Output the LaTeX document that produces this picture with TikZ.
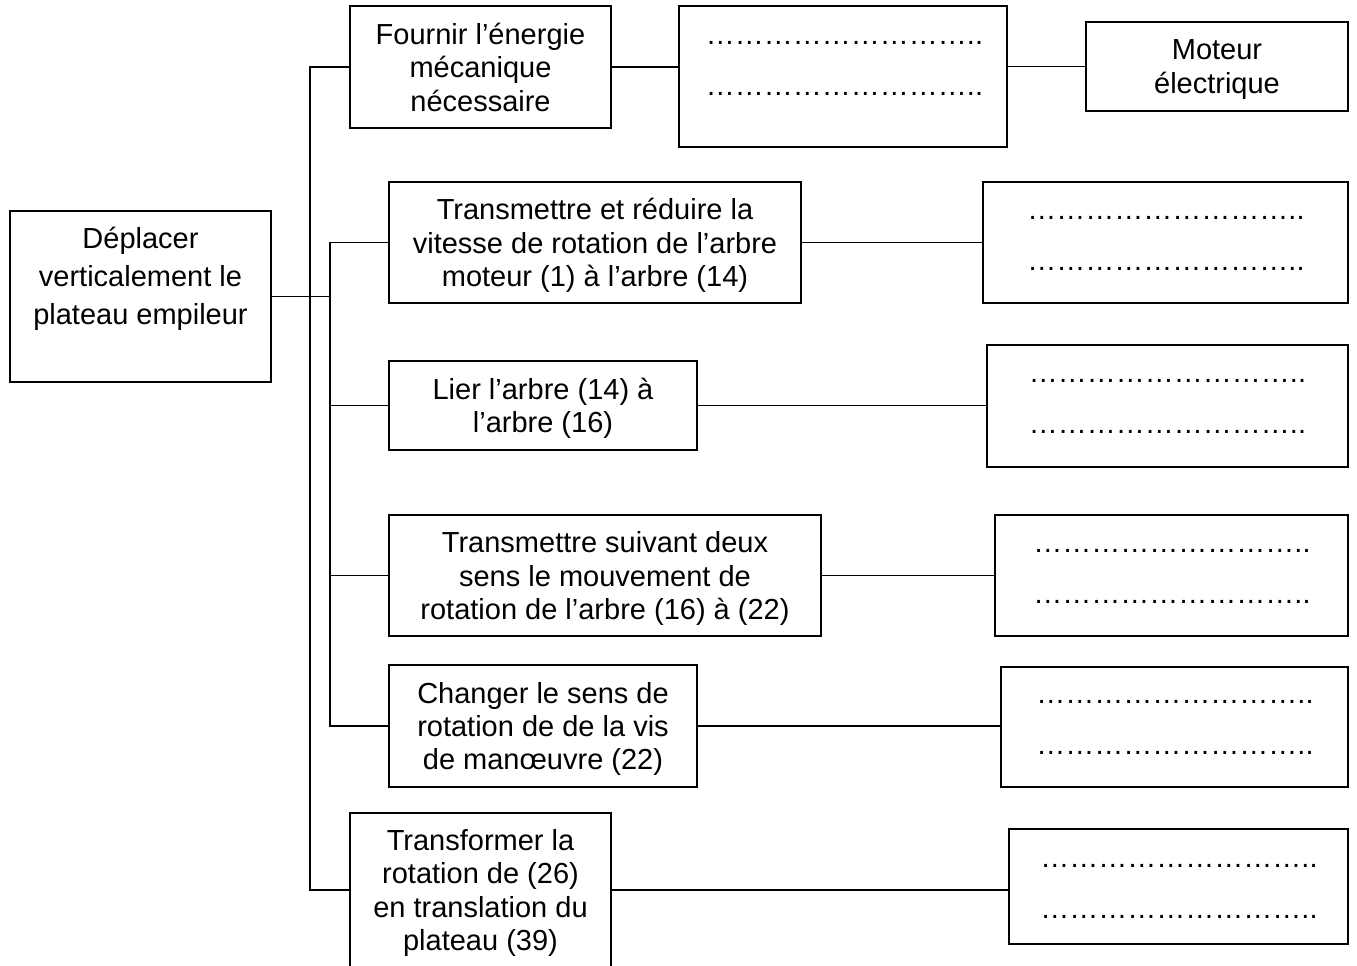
\documentclass[tikz,border=0pt]{standalone}
\usepackage{fontspec}
\setmainfont{Liberation Sans}
\begin{document}
\begin{tikzpicture}[x=0.75pt,y=-0.75pt,
  blk/.style={draw=black, line width=1.4pt, rectangle, inner sep=0pt, align=center,
    text depth=0pt, font=\fontsize{21.75}{25.1}\selectfont},
  lbl/.style={inner sep=0pt, align=center, text depth=0pt},
  dotl/.style={anchor=base, inner sep=0pt, font=\fontsize{21.75}{25.1}\selectfont},
  wire/.style={draw=black, line width=1.4pt}]
\useasboundingbox (0,0) rectangle (1357,966);
\clip (0,0) rectangle (1357,966);
\fill[white] (0,0) rectangle (1357,966);

% main function
\node[blk, minimum width=195.75pt, minimum height=128.25pt] (A) at (140.5,296.5) {};
\node[lbl, font=\fontsize{21.75}{28.5}\selectfont] (Atext) at (140.5,276)
  {Déplacer\\verticalement le\\plateau empileur};

% level-1 functions
\node[blk, minimum width=195.75pt, minimum height=91.5pt] (B1) at (480.5,67)
  {Fournir l’énergie\\mécanique\\nécessaire};
\node[blk, minimum width=309pt, minimum height=90.75pt] (B2) at (595,242.5)
  {Transmettre et réduire la\\vitesse de rotation de l’arbre\\moteur (1) à l’arbre (14)};
\node[blk, minimum width=231pt, minimum height=66.75pt] (B3) at (543,405.5)
  {Lier l’arbre (14) à\\l’arbre (16)};
\node[blk, minimum width=324pt, minimum height=90.75pt] (B4) at (605,575.5)
  {Transmettre suivant deux\\sens le mouvement de\\rotation de l’arbre (16) à (22)};
\node[blk, minimum width=231pt, minimum height=91.5pt] (B5) at (543,726)
  {Changer le sens de\\rotation de de la vis\\de manœuvre (22)};
\node[blk, minimum width=195.75pt, minimum height=115.5pt] (B6) at (480.5,890)
  {Transformer la\\rotation de (26)\\en translation du\\plateau (39)};

% solution boxes
\node[blk, minimum width=246pt, minimum height=105.75pt] (D1) at (843,76.5) {};
\node[blk, minimum width=196.5pt, minimum height=66.75pt] (M) at (1217,66.5)
  {Moteur\\électrique};
\node[blk, minimum width=273.75pt, minimum height=90.75pt] (D2) at (1165.5,242.5) {};
\node[blk, minimum width=270.75pt, minimum height=91.5pt] (D3) at (1167.5,406) {};
\node[blk, minimum width=264.75pt, minimum height=90.75pt] (D4) at (1171.5,575.5) {};
\node[blk, minimum width=260.25pt, minimum height=90pt] (D5) at (1174.5,727) {};
\node[blk, minimum width=254.25pt, minimum height=86.25pt] (D6) at (1178.5,886.5) {};

% dotted answer lines
\node[dotl] (D1a) at (844.5,44.8) {………………………..};
\node[dotl] (D1b) at (844.5,95.8) {………………………..};
\node[dotl] (D2a) at (1166,219.5) {………………………..};
\node[dotl] (D2b) at (1166,270.8) {………………………..};
\node[dotl] (D3a) at (1167.5,382.5) {………………………..};
\node[dotl] (D3b) at (1167.5,433.8) {………………………..};
\node[dotl] (D4a) at (1172,552.5) {………………………..};
\node[dotl] (D4b) at (1172,603.8) {………………………..};
\node[dotl] (D5a) at (1175,703.2) {………………………..};
\node[dotl] (D5b) at (1175,754.5) {………………………..};
\node[dotl] (D6a) at (1179,867.5) {………………………..};
\node[dotl] (D6b) at (1179,918.5) {………………………..};

% junction coordinates
\coordinate (j1) at (310,296.5);
\coordinate (j2) at (330,296.5);

% connectors
\draw[wire] (A.east) -- (j2);
\draw[wire] (B1.west) -- (B1.west -| j1) -- (B6.west -| j1) -- (B6.west);
\draw[wire] (B2.west) -- (B2.west -| j2) -- (B5.west -| j2) -- (B5.west);
\draw[wire] (B3.west) -- (B3.west -| j2);
\draw[wire] (B4.west) -- (B4.west -| j2);

\draw[wire] (B1.east) -- (B1.east -| D1.west);
\draw[wire] (M.west) -- (M.west -| D1.east);
\draw[wire] (B2.east) -- (B2.east -| D2.west);
\draw[wire] (B3.east) -- (B3.east -| D3.west);
\draw[wire] (B4.east) -- (B4.east -| D4.west);
\draw[wire] (B5.east) -- (B5.east -| D5.west);
\draw[wire] (B6.east) -- (B6.east -| D6.west);
\end{tikzpicture}
\end{document}
